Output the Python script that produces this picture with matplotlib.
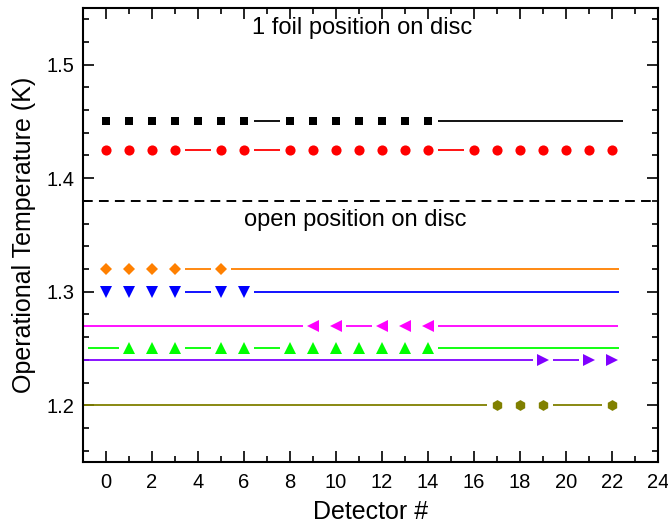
import matplotlib
matplotlib.use("Agg")
import matplotlib.pyplot as plt
from matplotlib.ticker import MultipleLocator

plt.rcParams['font.family'] = ['Liberation Sans', 'DejaVu Sans']

# detectors with a symbol, per series
black_x = [0, 1, 2, 3, 4, 5, 6, 8, 9, 10, 11, 12, 13, 14]
red_x = [0, 1, 2, 3, 5, 6, 8, 9, 10, 11, 12, 13, 14, 16, 17, 18, 19, 20, 21, 22]
orange_x = [0, 1, 2, 3, 5]
blue_x = [0, 1, 2, 3, 5, 6]
magenta_x = [9, 10, 12, 13, 14]
green_x = [1, 2, 3, 5, 6, 8, 9, 10, 11, 12, 13, 14]
purple_x = [19, 21, 22]
olive_x = [17, 18, 19, 22]

# temperatures (K)
black_t = 1.45
red_t = 1.425
orange_t = 1.32
blue_t = 1.30
magenta_t = 1.27
green_t = 1.25
purple_t = 1.24
olive_t = 1.20

# where the connecting line starts / ends (no symbol there)
black_line = (None, 22.5)
red_line = (None, None)
orange_line = (None, 22.3)
blue_line = (None, 22.3)
magenta_line = (-1.0, 22.25)
green_line = (-0.8, 22.3)
purple_line = (-1.0, None)
olive_line = (-1.0, None)

series = [
    (black_x, black_t, black_line, 'black', 's', 6.3),
    (red_x, red_t, red_line, '#ff0000', 'o', 7.3),
    (orange_x, orange_t, orange_line, '#ff8000', 'D', 6.3),
    (blue_x, blue_t, blue_line, '#0000ff', 'v', 8),
    (magenta_x, magenta_t, magenta_line, '#ff00ff', '<', 8),
    (green_x, green_t, green_line, '#00ff00', '^', 8),
    (purple_x, purple_t, purple_line, '#8000ff', '>', 8),
    (olive_x, olive_t, olive_line, '#808000', 'h', 7.8),
]

fig = plt.figure(figsize=(6.68, 5.29), dpi=100)
ax = fig.add_axes([0.1243, 0.1267, 0.8607, 0.8583])

gap = 0.42
for xs, t, (start, end), col, mk, ms in series:
    pts = [(x, True) for x in xs]
    if start is not None:
        pts.insert(0, (start, False))
    if end is not None:
        pts.append((end, False))
    # Origin-style line: segments between points, cut back around symbols
    for (a, ma), (b, mb) in zip(pts[:-1], pts[1:]):
        a2 = a + gap if ma else a
        b2 = b - gap if mb else b
        if b2 - a2 > 0.3:
            ax.plot([a2, b2], [t, t], color=col, lw=1.3, solid_capstyle='butt')
    ax.plot(xs, [t] * len(xs), linestyle='none', marker=mk, color=col,
            markersize=ms, markeredgewidth=0)

ax.axhline(1.38, color='black', lw=1.4, dashes=(5, 3.2))

ax.text(11.15, 1.532, '1 foil position on disc', ha='center', va='center', fontsize=17)
ax.text(10.83, 1.363, 'open position on disc', ha='center', va='center', fontsize=17)

ax.set_xlim(-1, 24)
ax.set_ylim(1.15, 1.55)
ax.xaxis.set_major_locator(MultipleLocator(2))
ax.xaxis.set_minor_locator(MultipleLocator(1))
ax.yaxis.set_major_locator(MultipleLocator(0.1))
ax.yaxis.set_minor_locator(MultipleLocator(0.02))
ax.tick_params(which='both', direction='in', top=True, right=True, width=1.2, labelsize=14.5)
ax.tick_params(which='major', length=8)
ax.tick_params(which='minor', length=4)
ax.tick_params(axis='x', pad=8)
ax.tick_params(axis='y', pad=6)
ax.set_yticks([1.2, 1.3, 1.4, 1.5])
ax.set_yticklabels(['1.2', '1.3', '1.4', '1.5'])
for s in ax.spines.values():
    s.set_linewidth(1.5)

ax.set_xlabel('Detector #', fontsize=18, labelpad=6)
ax.set_ylabel('Operational Temperature (K)', fontsize=18, labelpad=8)

fig.savefig('out.png', dpi=100)
